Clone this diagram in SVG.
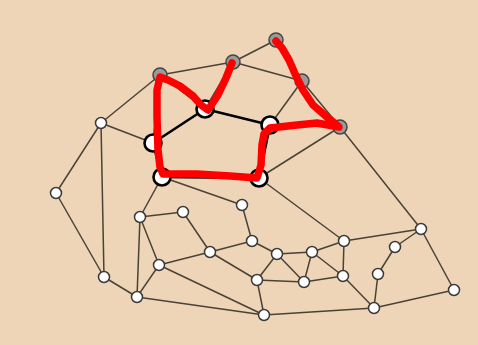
<svg xmlns="http://www.w3.org/2000/svg" width="478" height="345" viewBox="0 0 478 345">
<style>
.e{stroke:#4a4237;stroke-width:1.5;fill:none}
.k{stroke:#000;stroke-width:2.6;fill:none}
.w circle{fill:#fff;stroke:#3a3a3a;stroke-width:1.5}
.b circle{fill:#fff;stroke:#000;stroke-width:2.6}
.g circle{fill:#9a9a9a;stroke:#444;stroke-width:1.5}
.r{stroke:#f00;stroke-width:7.5;fill:none;stroke-linecap:round;stroke-linejoin:round}
</style>
<rect width="478" height="345" fill="#EED5B7"/>
<g id="connectors">
<line class="e" x1="160" y1="75" x2="233" y2="62"/>
<line class="e" x1="233" y1="62" x2="276" y2="40"/>
<line class="e" x1="233" y1="62" x2="302" y2="81"/>
<line class="e" x1="276" y1="40" x2="302" y2="81"/>
<line class="e" x1="302" y1="81" x2="340" y2="127"/>
<line class="e" x1="302" y1="81" x2="270" y2="125"/>
<line class="e" x1="340" y1="127" x2="270" y2="125"/>
<line class="e" x1="340" y1="127" x2="259" y2="178"/>
<line class="e" x1="340" y1="127" x2="421" y2="229"/>
<line class="e" x1="160" y1="75" x2="205" y2="109"/>
<line class="e" x1="233" y1="62" x2="205" y2="109"/>
<line class="e" x1="160" y1="75" x2="153" y2="143"/>
<line class="e" x1="160" y1="75" x2="101" y2="123"/>
<line class="e" x1="101" y1="123" x2="153" y2="143"/>
<line class="e" x1="101" y1="123" x2="56" y2="193"/>
<line class="e" x1="101" y1="123" x2="104" y2="277"/>
<line class="e" x1="56" y1="193" x2="104" y2="277"/>
<line class="e" x1="104" y1="277" x2="137" y2="297"/>
<line class="e" x1="137" y1="297" x2="140" y2="217"/>
<line class="e" x1="137" y1="297" x2="159" y2="265"/>
<line class="e" x1="137" y1="297" x2="264" y2="315"/>
<line class="e" x1="140" y1="217" x2="162" y2="177"/>
<line class="e" x1="140" y1="217" x2="183" y2="212"/>
<line class="e" x1="140" y1="217" x2="159" y2="265"/>
<line class="e" x1="183" y1="212" x2="210" y2="252"/>
<line class="e" x1="159" y1="265" x2="210" y2="252"/>
<line class="e" x1="159" y1="265" x2="264" y2="315"/>
<line class="e" x1="210" y1="252" x2="252" y2="241"/>
<line class="e" x1="210" y1="252" x2="257" y2="280"/>
<line class="e" x1="242" y1="205" x2="162" y2="177"/>
<line class="e" x1="242" y1="205" x2="252" y2="241"/>
<line class="e" x1="252" y1="241" x2="277" y2="254"/>
<line class="e" x1="277" y1="254" x2="312" y2="252"/>
<line class="e" x1="277" y1="254" x2="257" y2="280"/>
<line class="e" x1="277" y1="254" x2="304" y2="282"/>
<line class="e" x1="312" y1="252" x2="344" y2="241"/>
<line class="e" x1="312" y1="252" x2="304" y2="282"/>
<line class="e" x1="312" y1="252" x2="343" y2="276"/>
<line class="e" x1="344" y1="241" x2="343" y2="276"/>
<line class="e" x1="344" y1="241" x2="259" y2="178"/>
<line class="e" x1="344" y1="241" x2="421" y2="229"/>
<line class="e" x1="257" y1="280" x2="304" y2="282"/>
<line class="e" x1="257" y1="280" x2="264" y2="315"/>
<line class="e" x1="304" y1="282" x2="343" y2="276"/>
<line class="e" x1="343" y1="276" x2="374" y2="308"/>
<line class="e" x1="264" y1="315" x2="374" y2="308"/>
<line class="e" x1="374" y1="308" x2="378" y2="274"/>
<line class="e" x1="378" y1="274" x2="395" y2="247"/>
<line class="e" x1="395" y1="247" x2="421" y2="229"/>
<line class="e" x1="421" y1="229" x2="454" y2="290"/>
<line class="e" x1="454" y1="290" x2="374" y2="308"/>
<line class="k" x1="205" y1="109" x2="153" y2="143"/>
<line class="k" x1="205" y1="109" x2="270" y2="125"/>
<line class="k" x1="270" y1="125" x2="259" y2="178"/>
<line class="k" x1="153" y1="143" x2="162" y2="177"/>
<line class="k" x1="162" y1="177" x2="259" y2="178"/>
</g>
<g id="G1" class="g"><circle cx="160" cy="75" r="7"/></g>
<g id="G2" class="g"><circle cx="233" cy="62" r="7"/></g>
<g id="G3" class="g"><circle cx="276" cy="40" r="7"/></g>
<g id="G4" class="g"><circle cx="302" cy="81" r="7"/></g>
<g id="G5" class="g"><circle cx="340" cy="127" r="7"/></g>
<g id="B1" class="b"><circle cx="205" cy="109" r="8.5"/></g>
<g id="B2" class="b"><circle cx="270" cy="125" r="8.5"/></g>
<g id="B3" class="b"><circle cx="153" cy="143" r="8.5"/></g>
<g id="B4" class="b"><circle cx="162" cy="177" r="8.5"/></g>
<g id="B5" class="b"><circle cx="259" cy="178" r="8.5"/></g>
<g id="W1" class="w"><circle cx="101" cy="123" r="5.5"/></g>
<g id="W2" class="w"><circle cx="56" cy="193" r="5.5"/></g>
<g id="W3" class="w"><circle cx="104" cy="277" r="5.5"/></g>
<g id="W4" class="w"><circle cx="137" cy="297" r="5.5"/></g>
<g id="W5" class="w"><circle cx="140" cy="217" r="5.5"/></g>
<g id="W6" class="w"><circle cx="183" cy="212" r="5.5"/></g>
<g id="W7" class="w"><circle cx="159" cy="265" r="5.5"/></g>
<g id="W8" class="w"><circle cx="210" cy="252" r="5.5"/></g>
<g id="W9" class="w"><circle cx="242" cy="205" r="5.5"/></g>
<g id="W10" class="w"><circle cx="252" cy="241" r="5.5"/></g>
<g id="W11" class="w"><circle cx="277" cy="254" r="5.5"/></g>
<g id="W12" class="w"><circle cx="312" cy="252" r="5.5"/></g>
<g id="W13" class="w"><circle cx="344" cy="241" r="5.5"/></g>
<g id="W14" class="w"><circle cx="257" cy="280" r="5.5"/></g>
<g id="W15" class="w"><circle cx="304" cy="282" r="5.5"/></g>
<g id="W16" class="w"><circle cx="343" cy="276" r="5.5"/></g>
<g id="W17" class="w"><circle cx="264" cy="315" r="5.5"/></g>
<g id="W18" class="w"><circle cx="374" cy="308" r="5.5"/></g>
<g id="W19" class="w"><circle cx="421" cy="229" r="5.5"/></g>
<g id="W20" class="w"><circle cx="395" cy="247" r="5.5"/></g>
<g id="W21" class="w"><circle cx="378" cy="274" r="5.5"/></g>
<g id="W22" class="w"><circle cx="454" cy="290" r="5.5"/></g>
<path class="r" d="M232,63 L226,78 L218,95 L208,110 L201,105 L193,96 L180,86 L168,80 L160,77 L157,90 L157,117 L158,150 L160,167 L163,174 L197,174 L230,176 L257,178 L261,165 L262,145 L264,134 L270,128 L297,125 L317,123 L339,127 L327,117 L313,105 L303,90 L296,76 L289,60 L282,48 L276,41"/>
</svg>
